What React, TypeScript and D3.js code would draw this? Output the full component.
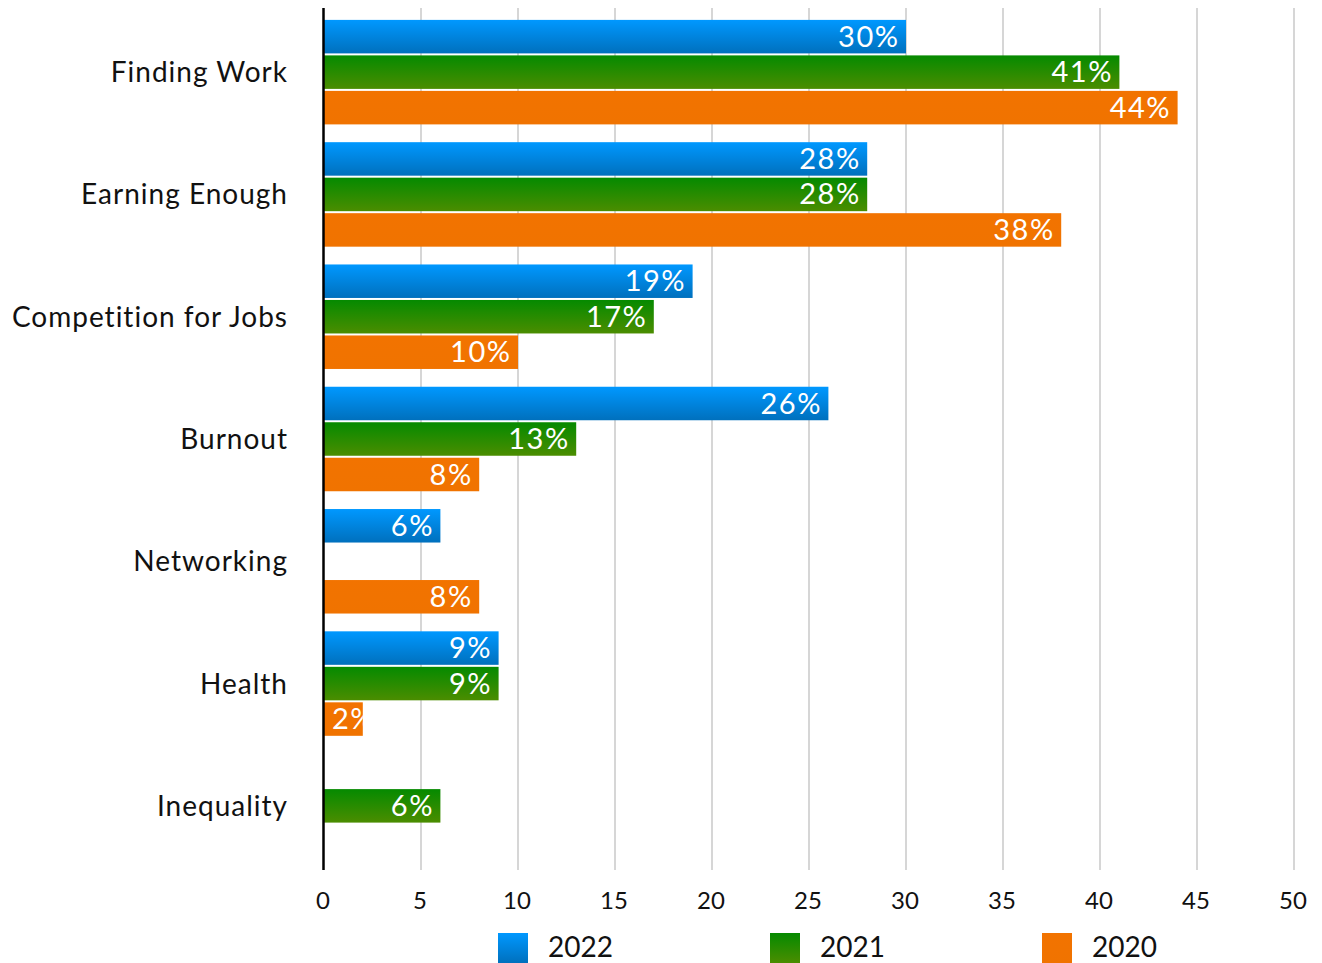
import React, { useEffect, useRef } from "react";
import * as d3 from "d3";

const categories = ["Finding Work", "Earning Enough", "Competition for Jobs", "Burnout", "Networking", "Health", "Inequality"];
const seriesNames = ["2022", "2021", "2020"];
const values2022: (number | null)[] = [30, 28, 19, 26, 6, 9, null];
const values2021: (number | null)[] = [41, 28, 17, 13, null, 9, 6];
const values2020: (number | null)[] = [44, 38, 10, 8, 8, 2, null];
const xTicks = [0, 5, 10, 15, 20, 25, 30, 35, 40, 45, 50];

const W = 1322, H = 963;
const FONT = "Lato, 'Noto Sans', sans-serif";

export default function App() {
  const ref = useRef<SVGSVGElement>(null);
  useEffect(() => {
    const svg = d3.select(ref.current);
    svg.selectAll("*").remove();
    const x = d3.scaleLinear().domain([0, 50]).range([324, 1294]);
    const y = d3.scaleBand().domain(categories).range([11, 867]);
    const sub = d3.scaleBand().domain(seriesNames).range([0, 106.5]);
    const groupOffset = (y.bandwidth() - 106.5) / 2;
    const series = [values2022, values2021, values2020];

    const defs = svg.append("defs");
    const grads = [
      { id: "g2022", c1: "#0098ff", c2: "#0070bd" },
      { id: "g2021", c1: "#058a00", c2: "#4b8d00" },
      { id: "g2020", c1: "#f27300", c2: "#f07300" },
    ];
    grads.forEach(g => {
      const lg = defs.append("linearGradient").attr("id", g.id).attr("x1", 0).attr("y1", 0).attr("x2", 0).attr("y2", 1);
      lg.append("stop").attr("offset", "0%").attr("stop-color", g.c1);
      lg.append("stop").attr("offset", "100%").attr("stop-color", g.c2);
    });

    // gridlines
    svg.append("g").selectAll("line").data(xTicks.filter(t => t > 0)).join("line")
      .attr("x1", d => x(d)).attr("x2", d => x(d)).attr("y1", 8).attr("y2", 870)
      .attr("stroke", "#c8c8c8").attr("stroke-width", 1.5);

    // tick labels
    svg.append("g").selectAll("text").data(xTicks).join("text")
      .attr("x", d => x(d) - 1).attr("y", 909).attr("text-anchor", "middle")
      .attr("font-family", FONT).attr("font-size", 24).attr("fill", "#111")
      .text(d => String(d));

    // category labels
    svg.append("g").selectAll("text").data(categories).join("text")
      .attr("x", 288).attr("y", d => (y(d) as number) + y.bandwidth() / 2 + 10)
      .attr("text-anchor", "end").attr("font-family", FONT).attr("font-size", 28)
      .attr("letter-spacing", 1).attr("fill", "#111")
      .text(d => d);

    // bars
    let clipId = 0;
    categories.forEach((cat, ci) => {
      series.forEach((vals, si) => {
        const v = vals[ci];
        if (v == null) return;
        const y0 = (y(cat) as number) + groupOffset + (sub(seriesNames[si]) as number);
        const h = sub.bandwidth();
        const bx = x(0), bw = x(v) - x(0);
        const id = "clip" + clipId++;
        defs.append("clipPath").attr("id", id).append("rect")
          .attr("x", bx).attr("y", y0 + 1).attr("width", bw).attr("height", h - 2);
        svg.append("rect").attr("x", bx).attr("y", y0 + 1).attr("width", bw).attr("height", h - 2)
          .attr("fill", `url(#${grads[si].id})`);
        const t = svg.append("text").attr("clip-path", `url(#${id})`)
          .attr("y", y0 + h / 2 + 10).attr("font-family", FONT).attr("font-size", 29)
          .attr("letter-spacing", 1.5)
          .attr("fill", "#fff").text(`${v}%`);
        const tw = (t.node() as SVGTextElement).getComputedTextLength();
        if (tw + 16 > bw) {
          t.attr("x", bx + 8).attr("text-anchor", "start");
        } else {
          t.attr("x", bx + bw - 6.5).attr("text-anchor", "end");
        }
      });
    });

    // axis line
    svg.append("line").attr("x1", 323.5).attr("x2", 323.5).attr("y1", 8).attr("y2", 870)
      .attr("stroke", "#000").attr("stroke-width", 2.5);

    // legend
    const legX = [498, 770, 1042];
    seriesNames.forEach((s, i) => {
      svg.append("rect").attr("x", legX[i]).attr("y", 933).attr("width", 30).attr("height", 30)
        .attr("fill", `url(#${grads[i].id})`);
      svg.append("text").attr("x", legX[i] + 50).attr("y", 957).attr("font-family", FONT)
        .attr("font-size", 28).attr("fill", "#111").text(s);
    });
  }, []);
  return (
    <svg ref={ref} width={W} height={H} style={{ position: "absolute", left: 0, top: 0, background: "#fff" }} />
  );
}
